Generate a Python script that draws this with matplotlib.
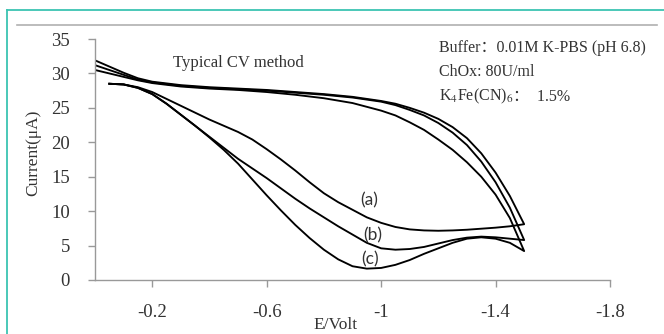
import matplotlib
matplotlib.use("Agg")
import matplotlib.pyplot as plt
from matplotlib.lines import Line2D

plt.rcParams['font.family'] = ['Liberation Serif', 'Noto Sans CJK SC']
plt.rcParams['mathtext.fontset'] = 'stix'

# forward sweep (upper branches), 0 -> -1.5 V
e_fwd = [0, -0.05, -0.1, -0.15, -0.2, -0.3, -0.4, -0.5, -0.6, -0.7, -0.8, -0.9,
         -1.0, -1.05, -1.1, -1.15, -1.2, -1.25, -1.3, -1.35, -1.4, -1.45, -1.5]
a_fwd = [31.9, 31.0, 30.1, 29.3, 28.8, 28.3, 28.0, 27.8, 27.6, 27.3, 27.0, 26.6,
         26.0, 25.6, 25.0, 24.3, 23.4, 22.2, 20.6, 18.4, 15.6, 12.2, 8.1]
b_fwd = [31.2, 30.5, 29.8, 29.1, 28.7, 28.2, 27.9, 27.7, 27.5, 27.2, 26.9, 26.5,
         25.9, 25.4, 24.7, 23.9, 22.8, 21.4, 19.6, 17.2, 14.2, 10.5, 5.8]
c_fwd = [30.5, 30.0, 29.5, 29.0, 28.6, 28.1, 27.8, 27.6, 27.3, 26.9, 26.4, 25.7,
         24.6, 23.9, 22.9, 21.8, 20.4, 18.9, 17.1, 15.0, 12.4, 9.0, 4.2]

# reverse sweep (lower branches), -1.5 -> -0.05 V
e_rev = [-1.5, -1.45, -1.4, -1.35, -1.3, -1.25, -1.2, -1.15, -1.1, -1.05, -1.0,
         -0.95, -0.9, -0.85, -0.8, -0.75, -0.7, -0.65, -0.6, -0.55, -0.5, -0.45,
         -0.4, -0.35, -0.3, -0.25, -0.2, -0.15, -0.1, -0.05]
a_rev = [8.1, 7.8, 7.6, 7.45, 7.3, 7.2, 7.15, 7.2, 7.35, 7.7, 8.3, 9.1, 10.2,
         11.3, 12.6, 14.2, 15.9, 17.5, 19.0, 20.4, 21.5, 22.4, 23.3, 24.3, 25.3,
         26.3, 27.3, 28.0, 28.4, 28.5]
b_rev = [5.8, 6.0, 6.2, 6.3, 6.15, 5.8, 5.3, 4.8, 4.5, 4.4, 4.6, 5.4, 6.6,
         7.8, 9.1, 10.4, 11.8, 13.3, 14.8, 16.2, 17.6, 19.2, 20.8, 22.4, 24.0,
         25.6, 27.0, 27.9, 28.4, 28.5]
c_rev = [4.2, 5.4, 6.0, 6.2, 6.0, 5.4, 4.6, 3.8, 2.9, 2.2, 1.75, 1.65, 2.0,
         3.0, 4.4, 6.1, 8.0, 10.1, 12.3, 14.6, 16.9, 18.9, 20.7, 22.4, 24.0,
         25.6, 27.0, 27.9, 28.4, 28.5]

curve_labels = ['(a)', '(b)', '(c)']
label_pos = [(-0.96, 11.6), (-0.97, 6.5), (-0.96, 3.05)]

x_ticks = [-0.2, -0.6, -1.0, -1.4, -1.8]
x_ticklabels = ['-0.2', '-0.6', '-1', '-1.4', '-1.8']
y_ticks = [0, 5, 10, 15, 20, 25, 30, 35]

fig = plt.figure(figsize=(6.64, 3.34), dpi=100)
fig.patch.set_facecolor('white')

# teal frame (left + top) and grey rule under it
teal = '#3cc4b2'
fig.add_artist(Line2D([7/664, 7/664], [0, 1 - 10/334], color=teal, lw=1.3))
fig.add_artist(Line2D([7/664, 1], [1 - 10/334, 1 - 10/334], color=teal, lw=1.3))
fig.add_artist(Line2D([17/664, 657/664], [1 - 25/334, 1 - 25/334], color='#b0b0b0', lw=1.2))

ax = fig.add_axes([95/664, 54/334, 515/664, 241/334])
for fwd, rev in [(a_fwd, a_rev), (b_fwd, b_rev), (c_fwd, c_rev)]:
    ax.plot(e_fwd + e_rev, fwd + rev, color='black', lw=1.35)

for lab, (x, y) in zip(curve_labels, label_pos):
    ax.text(x, y, lab, family='Lato', fontsize=12.5, color='#333333',
            ha='center', va='center')

ax.set_xlim(0, -1.8)
ax.set_ylim(0, 35)
ax.set_xticks(x_ticks)
ax.set_xticklabels(x_ticklabels)
ax.set_yticks(y_ticks)
for s in ['top', 'right']:
    ax.spines[s].set_visible(False)
for s in ['left', 'bottom']:
    ax.spines[s].set_color('#999999')
    ax.spines[s].set_linewidth(1.0)
ax.tick_params(axis='both', direction='out', length=5, width=1.0,
               color='#999999', labelcolor='#333333', labelsize=13.5)
ax.tick_params(axis='y', pad=13)
ax.tick_params(axis='x', pad=12)
ax.set_facecolor('none')

ax.text(-0.272, 31.5, 'Typical CV method', fontsize=12, color='#333333',
        ha='left', va='center')
ax.text(-1.202, 33.7, 'Buffer：0.01M K-PBS (pH 6.8)', fontsize=11.5,
        color='#333333', ha='left', va='center')
ax.text(-1.202, 30.2, 'ChOx: 80U/ml', fontsize=11.5, color='#333333',
        ha='left', va='center')
k4 = ax.text(-1.202, 26.6, r'K$_4$Fe(CN)$_6$', fontsize=11.5,
             color='#333333', ha='left', va='center')
ax.annotate('：  1.5%', xy=(1, 0.5), xycoords=k4, fontsize=11.5,
            color='#333333', ha='left', va='center')

fig.text(33/664, 1 - 153/334, 'Current(μA)', rotation=90, fontsize=12.5,
         color='#333333', ha='center', va='center')
fig.text(336/664, 1 - 325/334, 'E/Volt', fontsize=12.5, color='#333333',
         ha='center', va='center')

fig.savefig('out.png', dpi=100)
